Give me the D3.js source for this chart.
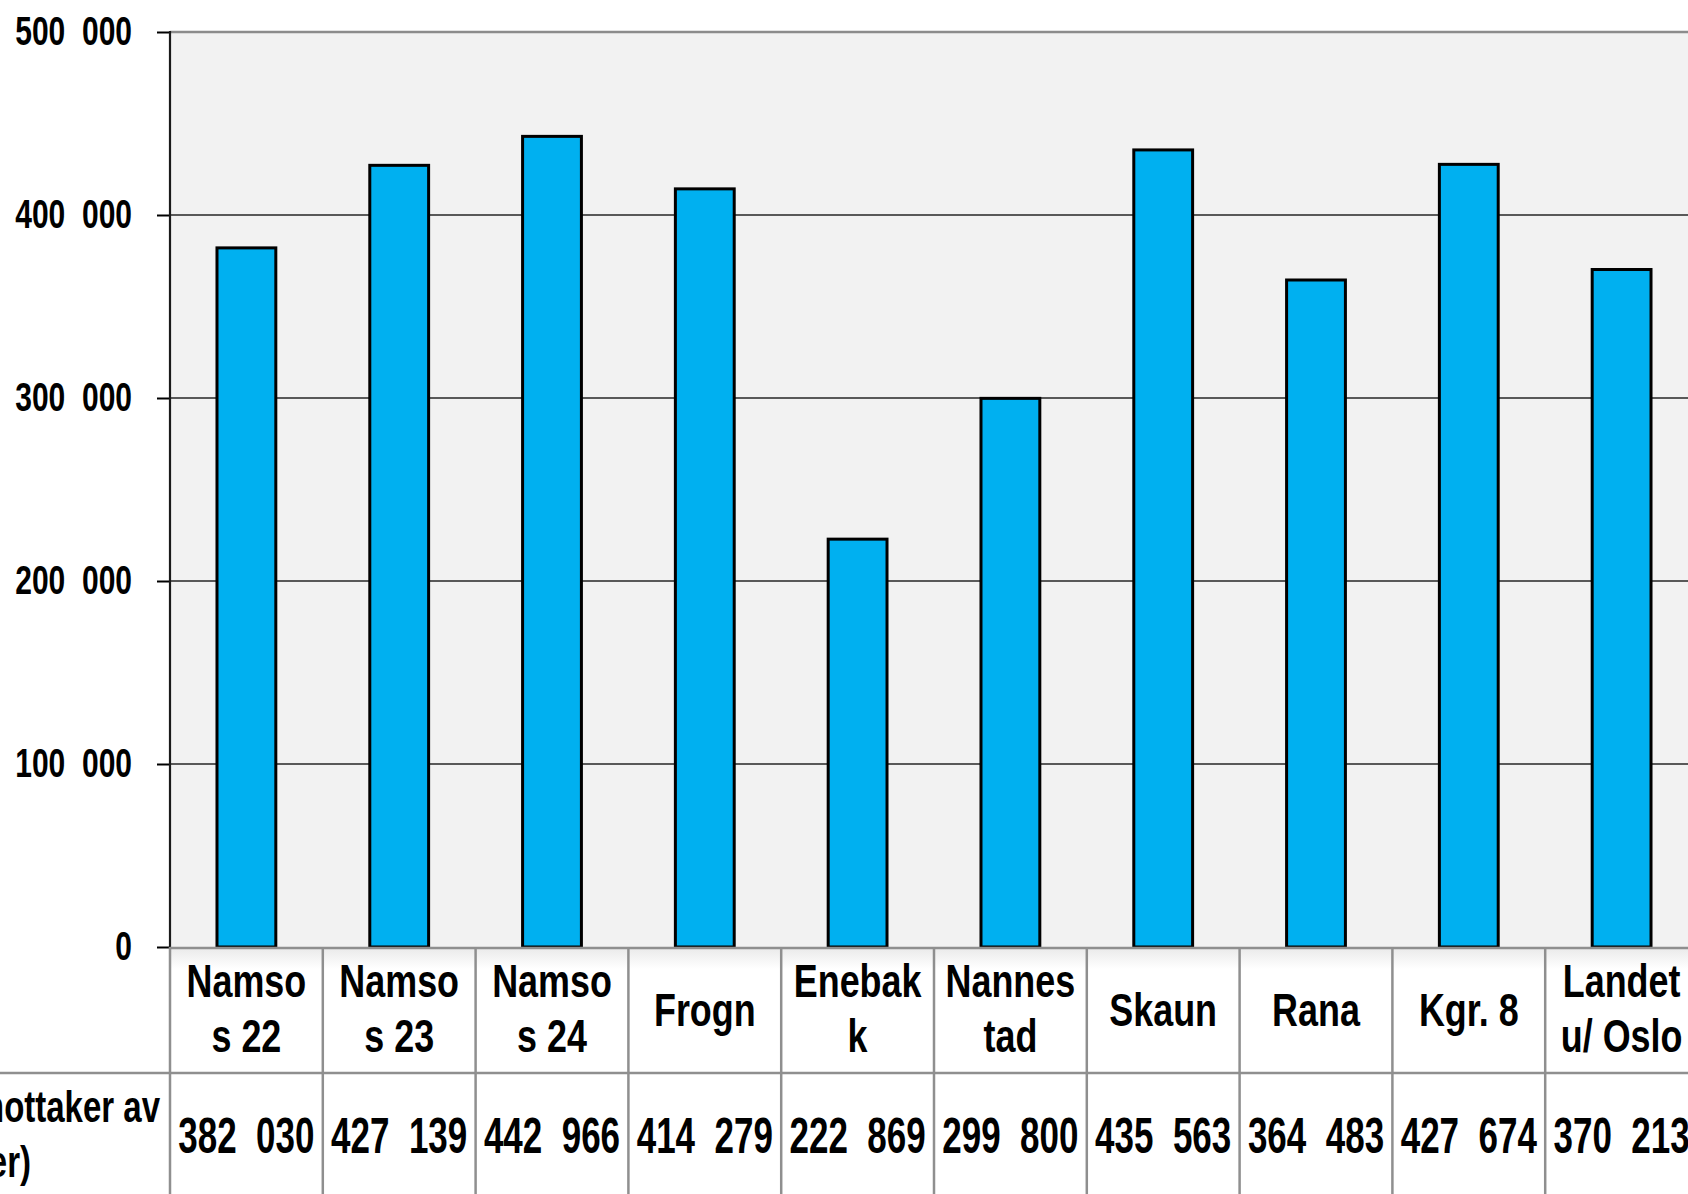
<!DOCTYPE html>
<html><head><meta charset="utf-8">
<script src="https://cdn.jsdelivr.net/npm/d3@7"></script>
<style>
html,body{margin:0;padding:0;background:#fff;overflow:hidden}
svg{display:block}
text{font-family:'Liberation Sans Narrow','Arial Narrow','Liberation Sans',Arial,sans-serif;font-weight:bold;fill:#000}
</style></head><body>
<svg id="chart" width="1688" height="1194"></svg>
<script>
const categories = [["Namso","s 22"],["Namso","s 23"],["Namso","s 24"],["Frogn"],["Enebak","k"],["Nannes","tad"],["Skaun"],["Rana"],["Kgr. 8"],["Landet","u/ Oslo"]];
const values = [382030, 427139, 442966, 414279, 222869, 299800, 435563, 364483, 427674, 370213];
const yTicks = [0, 100000, 200000, 300000, 400000, 500000];
const rowLabel = ["Utbetalt per mottaker av", "(kroner)"];

(function(){
const svg = d3.select("#chart");
const W = 1688, H = 1194;
const plotLeft = 170, plotTop = 32, plotBottom = 947, colW = 152.8;
const tableMid = 1073;
const ids = categories.map((c,i)=>i);
const x = d3.scaleBand().domain(ids).range([plotLeft, plotLeft + colW*ids.length]).padding(0);
const y = d3.scaleLinear().domain([0, 500000]).range([plotBottom, plotTop]);
const fmt = d3.formatLocale({decimal:",", thousands:"\u00a0\u00a0", grouping:[3], currency:["",""]}).format(",d");

// horizontally condense text around its anchor x
function condense(sel, sx){
  sel.each(function(){
    const t = d3.select(this);
    const ax = +t.attr("x") || 0;
    t.attr("transform", `translate(${ax*(1-sx)},0) scale(${sx},1)`);
  });
}

svg.append("rect").attr("x", plotLeft).attr("y", plotTop).attr("width", W - plotLeft + 20).attr("height", plotBottom - plotTop).attr("fill", "#f2f2f2");

svg.append("g").selectAll("line").data(yTicks.filter(t=>t>0 && t<500000)).join("line")
  .attr("x1", plotLeft).attr("x2", W).attr("y1", d=>y(d)).attr("y2", d=>y(d))
  .attr("stroke", "#262626").attr("stroke-width", 1.6);
svg.append("line").attr("x1", plotLeft).attr("x2", W).attr("y1", y(500000)).attr("y2", y(500000)).attr("stroke", "#8c8c8c").attr("stroke-width", 2.5);

const bw = x.bandwidth()*0.385;
svg.append("g").selectAll("rect").data(values).join("rect")
  .attr("x", (d,i)=>x(i) + x.bandwidth()/2 - bw/2)
  .attr("y", d=>y(d))
  .attr("width", bw)
  .attr("height", d=>plotBottom - y(d))
  .attr("fill", "#00b0f0").attr("stroke", "#000").attr("stroke-width", 3);

const yAxis = d3.axisLeft(y).tickValues(yTicks).tickSize(13).tickPadding(25).tickFormat(fmt);
const ga = svg.append("g").attr("transform", `translate(${plotLeft},0)`).call(yAxis);
ga.select(".domain").remove();
ga.attr("font-family", null).attr("font-size", null);
ga.selectAll(".tick line").attr("stroke", "#000").attr("stroke-width", 2);
const tt = ga.selectAll(".tick text").attr("font-size", 40).attr("dy", "0.32em").style("white-space","pre");
condense(tt, 0.75);
svg.append("line").attr("x1", plotLeft).attr("x2", plotLeft).attr("y1", plotTop-1).attr("y2", plotBottom).attr("stroke", "#1a1a1a").attr("stroke-width", 2.2);

const defs = svg.append("defs");
const grad = defs.append("linearGradient").attr("id","hg").attr("x1",0).attr("x2",0).attr("y1",0).attr("y2",1);
grad.append("stop").attr("offset","0%").attr("stop-color","#e9e9e9");
grad.append("stop").attr("offset","100%").attr("stop-color","#ffffff");
svg.append("rect").attr("x", plotLeft).attr("y", plotBottom).attr("width", W-plotLeft).attr("height", 22).attr("fill","url(#hg)");

const tableStroke = "#8f8f8f";
svg.append("line").attr("x1", plotLeft).attr("x2", W).attr("y1", plotBottom+1).attr("y2", plotBottom+1).attr("stroke", tableStroke).attr("stroke-width", 2.5);
svg.append("line").attr("x1", 0).attr("x2", W).attr("y1", tableMid).attr("y2", tableMid).attr("stroke", tableStroke).attr("stroke-width", 2.5);
svg.append("g").selectAll("line").data(ids).join("line")
  .attr("x1", i=>x(i)).attr("x2", i=>x(i))
  .attr("y1", plotBottom).attr("y2", H).attr("stroke", tableStroke).attr("stroke-width", 2.5);

const cat = svg.append("g").selectAll("text").data(categories).join("text")
  .attr("text-anchor", "middle").attr("font-size", 46)
  .attr("x", (d,i)=>x(i) + x.bandwidth()/2);
cat.each(function(lines, i){
  const t = d3.select(this);
  const cx = x(i) + x.bandwidth()/2;
  const baselines = lines.length === 2 ? [997, 1052] : [1026];
  lines.forEach((l,k)=> t.append("tspan").attr("x", cx).attr("y", baselines[k]).text(l));
});
condense(cat, 0.78);

const vals = svg.append("g").selectAll("text").data(values).join("text")
  .attr("x", (d,i)=>x(i) + x.bandwidth()/2).attr("y", 1153)
  .attr("text-anchor", "middle").attr("font-size", 50).style("white-space","pre")
  .text(d=>fmt(d));
condense(vals, 0.70);

const r1 = svg.append("text").attr("x", 160).attr("y", 1122).attr("text-anchor","end").attr("font-size", 44).text(rowLabel[0]);
const r2 = svg.append("text").attr("x", 31).attr("y", 1177).attr("text-anchor","end").attr("font-size", 44).text(rowLabel[1]);
condense(r1, 0.75); condense(r2, 0.75);
})();
</script></body></html>
